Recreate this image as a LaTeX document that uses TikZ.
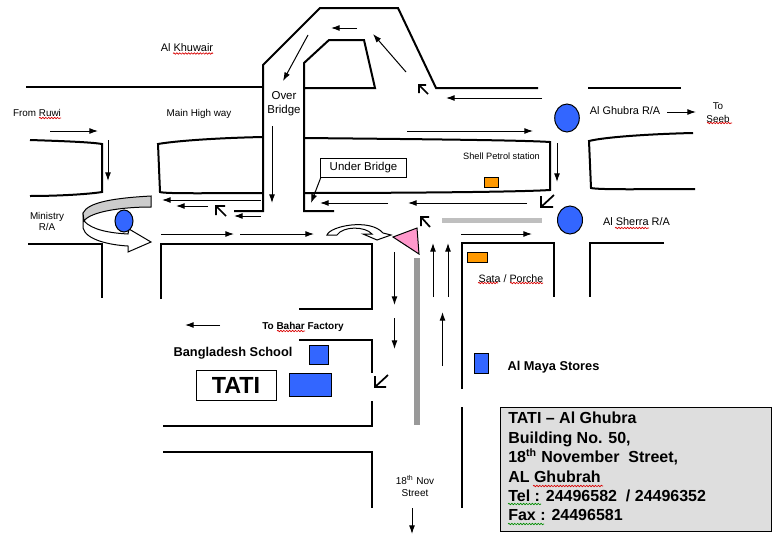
\documentclass[tikz,border=0pt]{standalone}
\usepackage{fontspec}
\setmainfont{Liberation Sans}
\usetikzlibrary{arrows.meta,decorations.pathmorphing}
\definecolor{mapblue}{RGB}{51,102,255}
\definecolor{maporange}{RGB}{255,153,0}
\definecolor{mappink}{RGB}{255,153,204}
\newcommand{\fs}[2]{\fontsize{#1}{#2}\selectfont}
\tikzset{
  road/.style={line width=1.5pt,line join=miter},
  flow/.style={line width=0.75pt,-{Latex[length=6.5pt,width=4.5pt]}},
  corner/.style={line width=1.3pt,line join=miter},
  shop/.style={draw=black,line width=0.75pt},
  txt/.style={inner sep=0pt,align=center},
  sm/.style={txt,font=\fs{8.1}{8.6}},
  mid/.style={txt,font=\fs{8.6}{10.4}},
  squig/.style={line width=0.5pt,decorate,decoration={snake,amplitude=0.55pt,segment length=2.2pt}},
  spellred/.style={squig,draw=red!85!black},
  spellgreen/.style={squig,draw=green!55!black},
}
\begin{document}
\begin{tikzpicture}[x=0.75pt,y=-0.75pt]
\useasboundingbox (0,0) rectangle (773,539);

% road edges
\draw[road] (26,87) -- (263,87);
\draw[road] (234,211) -- (263,211) -- (263,65) -- (320,8) -- (398,8) -- (436,88) -- (538,88);
\draw[road] (588,88) -- (681,88);
\draw[road] (334,211) -- (304,211) -- (304,63) -- (329,40) -- (364,40) -- (375,88) -- (304,88);
% islands
\draw[road] (30,140) .. controls (60,141) and (90,142) .. (102,144) -- (102,192) .. controls (90,194) and (60,196) .. (30,196);
\draw[road] (263,137) .. controls (215,138) and (175,141) .. (158,144) -- (160,192) .. controls (165,194) and (220,193) .. (263,193);
\draw[road] (304,138) .. controls (400,139) and (520,140) .. (550,142) -- (550,190) .. controls (520,192) and (400,193) .. (304,193);
\draw[road] (693,133) .. controls (650,134) and (605,137) .. (589,141) -- (591,188) .. controls (600,190) and (650,189) .. (695,189);
% lower blocks
\draw[road] (28,244) -- (102,244) -- (102,298);
\draw[road] (161,299) -- (161,244) -- (372,244) -- (372,309) -- (299,309);
\draw[road] (299,340) -- (372,340) -- (372,373);
\draw[road] (372,401) -- (372,426) -- (163,426);
\draw[road] (163,452) -- (372,452) -- (372,508);
\draw[road] (462,389) -- (462,243) -- (554,243) -- (554,297);
\draw[road] (462,407) -- (462,508);
\draw[road] (664,243) -- (590,243) -- (590,297);

% grey bars
\fill[black!25] (442,217.5) rectangle (542,223);
\fill[black!40] (414,258) rectangle (419.5,425);

% Ministry U-turn arrow
\draw[line width=0.75pt,fill=white] (83,213) -- (83,228) .. controls (86,240) and (110,245) .. (128,246) -- (128,252) -- (151,242) -- (129,229) -- (128,234) .. controls (110,233) and (92,230) .. (84,221) -- cycle;
\draw[line width=0.75pt,fill=black!20] (151,196) .. controls (115,198) and (88,202) .. (83,213) -- (84,221) .. controls (90,212) and (120,207) .. (151,207) -- cycle;

% small curved arrow
\draw[line width=0.75pt,fill=white] (327,235) .. controls (330,226) and (370,218) .. (383,233) -- (391,235) -- (377,240) -- (363,234) -- (372,234) .. controls (365,226) and (343,226) .. (337,235) -- cycle;

% roundabouts
\draw[fill=mapblue,line width=0.75pt] (124,221) ellipse [x radius=9,y radius=11];
\draw[fill=mapblue,line width=0.75pt] (567,118) ellipse [x radius=12.3,y radius=14];
\draw[fill=mapblue,line width=0.75pt] (570,220) ellipse [x radius=12.5,y radius=14];

% pink triangle
\draw[fill=mappink,line width=0.75pt] (393,237) -- (417,228) -- (419,254) -- cycle;

% shops
\draw[shop,fill=maporange] (484,177) rectangle (498,187);
\draw[shop,fill=maporange] (467,252) rectangle (487,262);
\draw[shop,fill=mapblue] (309,345) rectangle (328,364);
\draw[shop,fill=mapblue] (289,373) rectangle (331,396);
\draw[shop,fill=mapblue] (474,353) rectangle (488,373);

% flow arrows
\draw[flow] (50,131) -- (98,131);
\draw[flow] (108,140) -- (108,181);
\draw[flow] (261,200) -- (162,200);
\draw[flow] (208,206) -- (176,206);
\draw[flow] (261,216) -- (234,216);
\draw[flow] (161,234) -- (234,234);
\draw[flow] (240,234) -- (314,234);
\draw[flow] (272,126) -- (272,203);
\draw[flow] (308,35) -- (283,81);
\draw[flow] (357,28) -- (331,28);
\draw[flow] (406,72) -- (373,34);
\draw[flow] (542,98) -- (446,98);
\draw[flow] (407,131) -- (533,131);
\draw[flow] (557,143) -- (557,182);
\draw[flow] (667,112) -- (696,112);
\draw[flow] (527,203) -- (408,203);
\draw[flow] (388,203) -- (320,203);
\draw[flow] (461,234) -- (532,234);
\draw[flow] (433,297) -- (433,243);
\draw[flow] (448,297) -- (448,243);
\draw[flow] (442.5,366) -- (442.5,312);
\draw[flow] (394.5,252) -- (394.5,305);
\draw[flow] (394.5,318) -- (394.5,349);
\draw[flow] (220,325) -- (185,325);
\draw[flow] (412,508) -- (412,534);

% short corner arrows
\draw[corner] (428,94) -- (419,85) (426,85) -- (419,85) -- (419,93);
\draw[corner] (430,227) -- (421,217) (429,217) -- (421,217) -- (421,226);
\draw[corner] (226,216) -- (216,206) (225,206) -- (216,206) -- (216,215);
\draw[corner] (554,195) -- (541,207) (541,196) -- (541,207) -- (553,207);
\draw[corner] (388,375) -- (375,387) (375,376) -- (375,387) -- (386,387);

% labels
\node[sm,font=\fs{8.2}{9}] (khuwair) at (187,48) {Al Khuwair};
\node[sm,font=\fs{7.4}{8}] (ruwi) at (37,113) {From Ruwi};
\node[sm,font=\fs{7.4}{8}] (highway) at (199,114) {Main High way};
\node[sm,font=\fs{7.4}{8.2}] (ministry) at (47,221.5) {Ministry\\R/A};
\node[mid] (over) at (284,104) {Over\\Bridge};
\node[draw=black,line width=0.75pt,minimum width=64.5pt,minimum height=14.25pt,inner sep=0pt,font=\fs{8.6}{10}] (under) at (363.5,167.5) {Under Bridge};
\coordinate (underfoot) at (321,177);
\coordinate (undertip) at (311,203);
\draw[flow] (underfoot) -- (undertip);
\node[sm,font=\fs{6.9}{8}] (shell) at (501.5,156) {Shell Petrol station};
\node[sm,font=\fs{8.2}{9}] (ghubra) at (625,111) {Al Ghubra R/A};
\node[sm,font=\fs{7.4}{9.6}] (seeb) at (718,112.5) {To\\Seeb};
\node[sm,font=\fs{8.2}{9}] (sherra) at (636.5,222) {Al Sherra R/A};
\node[sm,font=\fs{8}{9}] (sata) at (511,279) {Sata / Porche};
\node[sm,font=\bfseries\fs{7.5}{8.5}] (bahar) at (303,327) {To Bahar Factory};
\node[sm,font=\bfseries\fs{9.6}{11}] (school) at (233,353) {Bangladesh School};
\node[draw=black,line width=0.75pt,minimum width=60pt,minimum height=22.5pt,inner sep=0pt,font=\bfseries\fs{17.5}{19}] (tati) at (236,385) {TATI};
\node[sm,font=\bfseries\fs{9.6}{11}] (maya) at (553.5,367) {Al Maya Stores};
\node[sm,font=\fs{7.5}{8.3}] (nov) at (415,486) {18\textsuperscript{th} Nov\\Street};

% address box
\draw[fill=black!13,line width=0.75pt] (500,407) rectangle (771,531);
\node[anchor=north west,inner sep=0pt,align=left,font=\bfseries\fs{12}{14.55}] (address) at (508,412) {TATI -- Al Ghubra\\Building No. 50,\\18\textsuperscript{th} November~ Street,\\AL Ghubrah\\Tel : 24496582~ / 24496352\\Fax : 24496581};

% spelling underlines
\draw[spellred] (173,53.5) -- (213,53.5);
\draw[spellred] (39,118) -- (61,118);
\draw[spellred] (707,123) -- (732,123);
\draw[spellred] (615,228) -- (649,228);
\draw[spellred] (478,283) -- (498,283);
\draw[spellred] (510,283) -- (543,283);
\draw[spellred] (277,331) -- (305,331);
\draw[spellred] (533,486) -- (603,486);
\draw[spellgreen] (508,504) -- (541,504);
\draw[spellgreen] (508,524) -- (544,524);
\end{tikzpicture}
\end{document}
